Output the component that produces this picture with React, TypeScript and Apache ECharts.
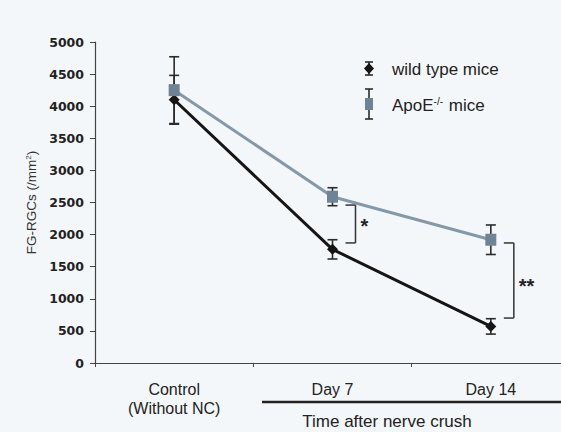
import React, { useEffect, useRef } from "react";
import * as echarts from "echarts";

const categories = ["Control\n(Without NC)", "Day 7", "Day 14"];
const yTicks = [0, 500, 1000, 1500, 2000, 2500, 3000, 3500, 4000, 4500, 5000];
const wildMean = [4100, 1770, 570];
const wildErr = [380, 150, 120];
const apoeMean = [4250, 2590, 1920];
const apoeErr = [520, 140, 230];
// significance brackets: [category index, upper value, lower value]
const brackets = [
  [1, 2460, 1870],
  [2, 1870, 700],
];
const bracketLabels = ["*", "**"];
const seriesNames = ["wild type mice", "ApoE-/- mice"];

const FONT = "'Liberation Sans', Arial, sans-serif";

export default function App() {
  const ref = useRef<HTMLDivElement>(null);
  useEffect(() => {
    if (!ref.current) return;
    const chart = echarts.init(ref.current, null, { renderer: "svg" });

    const errData = (mean: number[], err: number[]) =>
      mean.map((m, i) => [i, m - err[i], m + err[i]]);

    const errRender = (params: any, api: any) => {
      const lo = api.coord([api.value(0), api.value(1)]);
      const hi = api.coord([api.value(0), api.value(2)]);
      const hw = 5;
      const st = { stroke: "#2b2b2b", lineWidth: 1.6 };
      return {
        type: "group",
        children: [
          { type: "line", shape: { x1: lo[0], y1: lo[1], x2: hi[0], y2: hi[1] }, style: st },
          { type: "line", shape: { x1: lo[0] - hw, y1: lo[1], x2: lo[0] + hw, y2: lo[1] }, style: st },
          { type: "line", shape: { x1: hi[0] - hw, y1: hi[1], x2: hi[0] + hw, y2: hi[1] }, style: st },
        ],
      };
    };

    const bracketRender = (params: any, api: any) => {
      const idx = params.dataIndex;
      const top = api.coord([api.value(0), api.value(1)]);
      const bot = api.coord([api.value(0), api.value(2)]);
      const x = top[0] + 23;
      const st = { stroke: "#333", lineWidth: 1.5 };
      const stars = bracketLabels[idx];
      return {
        type: "group",
        children: [
          { type: "line", shape: { x1: x, y1: top[1], x2: x, y2: bot[1] }, style: st },
          { type: "line", shape: { x1: x - 10, y1: top[1], x2: x, y2: top[1] }, style: st },
          { type: "line", shape: { x1: x - 10, y1: bot[1], x2: x, y2: bot[1] }, style: st },
          {
            type: "text",
            x: x + 5,
            y: (top[1] + bot[1]) / 2 + (idx === 0 ? 2 : 5),
            style: {
              text: stars,
              fill: "#222",
              font: "bold 20px " + FONT,
              align: "left",
              verticalAlign: "middle",
            },
          },
        ],
      };
    };

    const lx = 369;
    const legendStyle = { stroke: "#2b2b2b", lineWidth: 1.6 };

    chart.setOption({
      animation: false,
      backgroundColor: "#f4f7f9",
      grid: {
        left: 95,
        top: 42,
        bottom: 69,
        width: 475,
        containLabel: false,
        outerBoundsMode: "none",
      },
      xAxis: {
        type: "category",
        data: categories,
        boundaryGap: true,
        axisLine: { lineStyle: { color: "#444", width: 1.2 } },
        axisTick: { show: true, length: 4, lineStyle: { color: "#444" } },
        axisLabel: {
          color: "#222",
          fontFamily: FONT,
          fontSize: 16,
          lineHeight: 19,
          margin: 17,
          interval: 0,
        },
        splitLine: { show: false },
      },
      yAxis: {
        type: "value",
        min: 0,
        max: 5000,
        interval: 500,
        name: "FG-RGCs (/mm{sup|2})",
        nameLocation: "middle",
        nameGap: 57,
        nameTextStyle: {
          color: "#333",
          fontFamily: FONT,
          fontSize: 13.5,
          rich: {
            sup: { fontSize: 8, fontFamily: FONT, color: "#333", padding: [0, 0, 6, 0] },
          },
        },
        axisLine: { show: true, lineStyle: { color: "#444", width: 1.2 } },
        axisTick: { show: true, length: 5, lineStyle: { color: "#444" } },
        axisLabel: {
          color: "#222",
          fontFamily: "'DejaVu Sans', Verdana, sans-serif",
          fontWeight: "bold",
          fontSize: 12.5,
          margin: 11,
          formatter: (v: number) => (yTicks.includes(v) ? String(v) : ""),
        },
        splitLine: { show: false },
      },
      series: [
        {
          type: "custom",
          name: "wild err",
          renderItem: errRender,
          data: errData(wildMean, wildErr),
          z: 1,
        },
        {
          type: "custom",
          name: "apoe err",
          renderItem: errRender,
          data: errData(apoeMean, apoeErr),
          z: 1,
        },
        {
          type: "line",
          name: seriesNames[0],
          data: wildMean,
          symbol: "diamond",
          symbolSize: 11,
          lineStyle: { color: "#151515", width: 3 },
          itemStyle: { color: "#151515" },
          z: 3,
        },
        {
          type: "line",
          name: seriesNames[1],
          data: apoeMean,
          symbol: "rect",
          symbolSize: [11, 12],
          lineStyle: { color: "#8598aa", width: 3 },
          itemStyle: { color: "#6f8396" },
          z: 4,
        },
        {
          type: "custom",
          name: "brackets",
          renderItem: bracketRender,
          data: brackets,
          z: 5,
        },
      ],
      graphic: [
        { type: "line", shape: { x1: lx, y1: 62, x2: lx, y2: 75 }, style: legendStyle },
        { type: "line", shape: { x1: lx - 4, y1: 62, x2: lx + 4, y2: 62 }, style: legendStyle },
        { type: "line", shape: { x1: lx - 4, y1: 75, x2: lx + 4, y2: 75 }, style: legendStyle },
        {
          type: "polygon",
          shape: { points: [[lx, 63], [lx + 5, 68.5], [lx, 74], [lx - 5, 68.5]] },
          style: { fill: "#151515" },
        },
        {
          type: "text",
          x: 392,
          y: 69,
          style: {
            text: seriesNames[0],
            font: "17px " + FONT,
            fill: "#222",
            verticalAlign: "middle",
          },
        },
        { type: "line", shape: { x1: lx, y1: 89, x2: lx, y2: 119 }, style: legendStyle },
        { type: "line", shape: { x1: lx - 4, y1: 89, x2: lx + 4, y2: 89 }, style: legendStyle },
        { type: "line", shape: { x1: lx - 4, y1: 119, x2: lx + 4, y2: 119 }, style: legendStyle },
        { type: "rect", shape: { x: lx - 4, y: 98, width: 8, height: 12 }, style: { fill: "#6f8396" } },
        {
          type: "text",
          x: 392,
          y: 105,
          style: {
            text: "ApoE{sup|-/-} mice",
            font: "17px " + FONT,
            fill: "#222",
            verticalAlign: "middle",
            rich: {
              sup: { font: "10px " + FONT, fill: "#222", padding: [0, 1, 8, 0] },
            },
          },
        },
        {
          type: "line",
          shape: { x1: 262, y1: 402, x2: 561, y2: 402 },
          style: { stroke: "#222", lineWidth: 2.5 },
        },
        {
          type: "text",
          x: 387,
          y: 421,
          style: {
            text: "Time after nerve crush",
            font: "17px " + FONT,
            fill: "#222",
            align: "center",
            verticalAlign: "middle",
          },
        },
      ],
    });
    return () => chart.dispose();
  }, []);
  return (
    <div
      ref={ref}
      style={{ position: "fixed", left: 0, top: 0, width: 561, height: 432 }}
    />
  );
}
